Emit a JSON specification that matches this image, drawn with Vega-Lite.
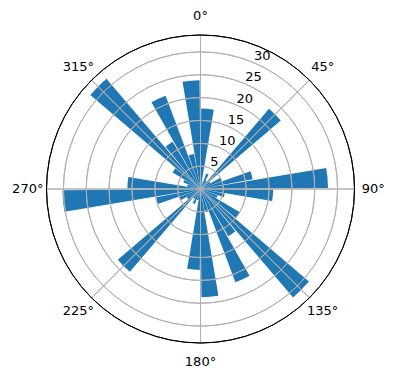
{
  "$schema": "https://vega.github.io/schema/vega-lite/v6.json",
  "width": 391,
  "height": 378,
  "autosize": {"type": "none"},
  "padding": {"left": 5, "top": 0, "right": 0, "bottom": 2},
  "background": "white",
  "config": {"view": {"stroke": null}, "font": "DejaVu Sans"},
  "datasets": {
    "bars": [
      {"direction": 5, "count": 17.6}, {"direction": 15, "count": 1.5}, {"direction": 25, "count": 3.6},
      {"direction": 35, "count": 2.2}, {"direction": 45, "count": 23.1}, {"direction": 55, "count": 2.5},
      {"direction": 65, "count": 5.0}, {"direction": 75, "count": 11.6}, {"direction": 85, "count": 27.9},
      {"direction": 95, "count": 15.9}, {"direction": 105, "count": 5.4}, {"direction": 115, "count": 4.0},
      {"direction": 125, "count": 10.0}, {"direction": 135, "count": 31.2}, {"direction": 145, "count": 12.0},
      {"direction": 155, "count": 21.8}, {"direction": 165, "count": 5.2}, {"direction": 175, "count": 23.7},
      {"direction": 185, "count": 17.7}, {"direction": 195, "count": 2.5}, {"direction": 205, "count": 3.5},
      {"direction": 215, "count": 2.5}, {"direction": 225, "count": 23.8}, {"direction": 235, "count": 3.5},
      {"direction": 245, "count": 5.0}, {"direction": 255, "count": 9.9}, {"direction": 265, "count": 30.2},
      {"direction": 275, "count": 16.0}, {"direction": 285, "count": 3.0}, {"direction": 295, "count": 4.0},
      {"direction": 305, "count": 7.1}, {"direction": 315, "count": 31.7}, {"direction": 325, "count": 12.0},
      {"direction": 335, "count": 21.8}, {"direction": 345, "count": 7.8}, {"direction": 355, "count": 23.8}
    ],
    "rings": [{"value": 5}, {"value": 10}, {"value": 15}, {"value": 20}, {"value": 25}, {"value": 30}],
    "edge": [{"value": 33.7}],
    "spokes": [{"angle": 0}, {"angle": 45}, {"angle": 90}, {"angle": 135}, {"angle": 180}, {"angle": 225}, {"angle": 270}, {"angle": 315}],
    "angleLabels": [
      {"angle": 0, "label": "0°"}, {"angle": 45, "label": "45°"}, {"angle": 90, "label": "90°"},
      {"angle": 135, "label": "135°"}, {"angle": 180, "label": "180°"}, {"angle": 225, "label": "225°"},
      {"angle": 270, "label": "270°"}, {"angle": 315, "label": "315°"}
    ]
  },
  "layer": [
    {
      "data": {"name": "bars"},
      "transform": [
        {"calculate": "datum.direction - 4.5", "as": "start"},
        {"calculate": "datum.direction + 4.5", "as": "end"}
      ],
      "mark": {"type": "arc", "color": "#1f77b4"},
      "encoding": {
        "theta": {"field": "start", "type": "quantitative", "stack": null, "scale": {"type": "linear", "domain": [0, 360], "range": [0, 6.283185307179586]}},
        "theta2": {"field": "end"},
        "radius": {"field": "count", "type": "quantitative", "scale": {"type": "linear", "domain": [0, 33.7], "range": [0, 154], "zero": true}}
      }
    },
    {
      "data": {"name": "rings"},
      "mark": {"type": "arc", "filled": false, "stroke": "#b0b0b0", "strokeWidth": 1},
      "encoding": {
        "radius": {"field": "value", "type": "quantitative", "scale": {"type": "linear", "domain": [0, 33.7], "range": [0, 154], "zero": true}},
        "radius2": {"field": "value"}
      }
    },
    {
      "data": {"name": "spokes"},
      "mark": {"type": "arc", "filled": false, "stroke": "#b0b0b0", "strokeWidth": 1},
      "encoding": {
        "theta": {"field": "angle", "type": "quantitative", "stack": null, "scale": {"type": "linear", "domain": [0, 360], "range": [0, 6.283185307179586]}},
        "theta2": {"field": "angle"},
        "radius": {"datum": 33.7, "type": "quantitative", "scale": {"type": "linear", "domain": [0, 33.7], "range": [0, 154], "zero": true}}
      }
    },
    {
      "data": {"name": "edge"},
      "mark": {"type": "arc", "filled": false, "stroke": "black", "strokeWidth": 1},
      "encoding": {
        "radius": {"field": "value", "type": "quantitative", "scale": {"type": "linear", "domain": [0, 33.7], "range": [0, 154], "zero": true}},
        "radius2": {"field": "value"}
      }
    },
    {
      "data": {"name": "rings"},
      "mark": {"type": "text", "align": "left", "baseline": "alphabetic", "dx": 1, "dy": -2, "fontSize": 13, "color": "black"},
      "encoding": {
        "theta": {"datum": 22.5, "type": "quantitative", "stack": null, "scale": {"type": "linear", "domain": [0, 360], "range": [0, 6.283185307179586]}},
        "radius": {"field": "value", "type": "quantitative", "scale": {"type": "linear", "domain": [0, 33.7], "range": [0, 154], "zero": true}},
        "text": {"field": "value", "type": "quantitative"}
      }
    },
    {
      "data": {"name": "angleLabels"},
      "mark": {"type": "text", "align": "center", "baseline": "middle", "fontSize": 13, "color": "black"},
      "encoding": {
        "theta": {"field": "angle", "type": "quantitative", "stack": null, "scale": {"type": "linear", "domain": [0, 360], "range": [0, 6.283185307179586]}},
        "radius": {"datum": 37.8, "type": "quantitative", "scale": {"type": "linear", "domain": [0, 33.7], "range": [0, 154], "zero": true}},
        "text": {"field": "label", "type": "nominal"}
      }
    }
  ]
}
